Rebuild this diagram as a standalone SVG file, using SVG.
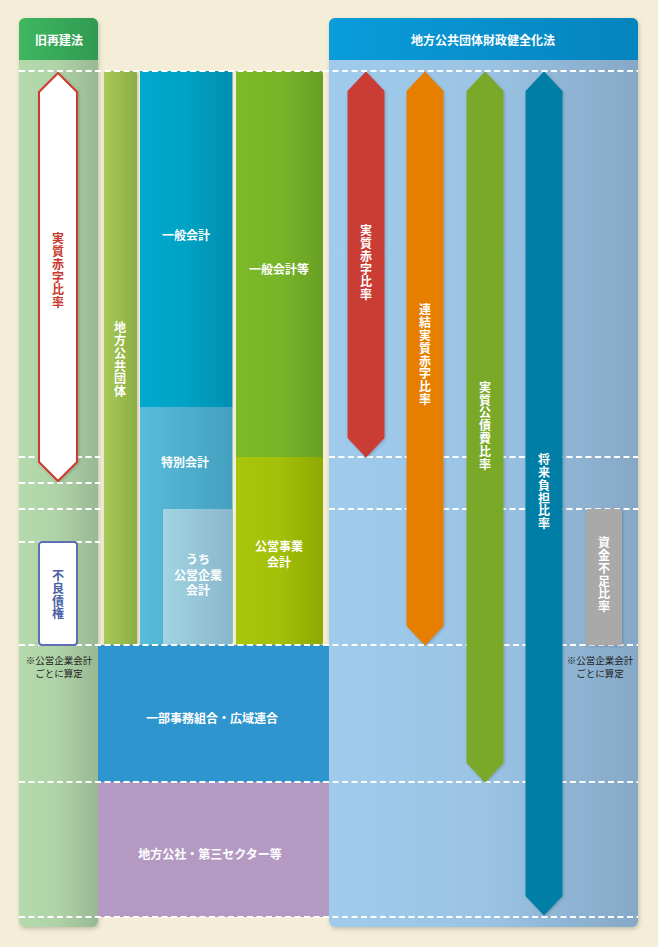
<svg xmlns="http://www.w3.org/2000/svg" width="658" height="947" viewBox="0 0 658 947">
<defs>
<style>
text{font-family:"Noto Sans CJK JP","Noto Sans",sans-serif;font-weight:bold;font-size:12px;fill:#fff;text-anchor:middle}
.v{writing-mode:vertical-rl;letter-spacing:0.8px}
.note{font-weight:normal;font-size:9.5px;fill:#222}
.dash{stroke:#fff;stroke-width:2;stroke-dasharray:6 3.5;fill:none}
</style>
<linearGradient id="gLB" x1="0" x2="1" y1="0" y2="0"><stop offset="0" stop-color="#b4d9ac"/><stop offset="0.45" stop-color="#b0d4a8"/><stop offset="1" stop-color="#99b893"/></linearGradient>
<linearGradient id="gLH" x1="0" x2="1" y1="0" y2="0"><stop offset="0" stop-color="#3fb75f"/><stop offset="1" stop-color="#319a53"/></linearGradient>
<linearGradient id="gRB" x1="0" x2="1" y1="0" y2="0"><stop offset="0" stop-color="#a0cbec"/><stop offset="0.5" stop-color="#9bc4e4"/><stop offset="1" stop-color="#86a8c6"/></linearGradient>
<linearGradient id="gRH" x1="0" x2="1" y1="0" y2="0"><stop offset="0" stop-color="#0a9cdb"/><stop offset="1" stop-color="#0584bd"/></linearGradient>
<linearGradient id="gC1" x1="0" x2="1" y1="0" y2="0"><stop offset="0" stop-color="#a8c957"/><stop offset="1" stop-color="#8cad45"/></linearGradient>
<linearGradient id="gC2a" x1="0" x2="1" y1="0" y2="0"><stop offset="0" stop-color="#00aacd"/><stop offset="0.5" stop-color="#00a2c5"/><stop offset="1" stop-color="#008fb0"/></linearGradient>
<linearGradient id="gC2b" x1="0" x2="1" y1="0" y2="0"><stop offset="0" stop-color="#58bdd9"/><stop offset="1" stop-color="#44a0bf"/></linearGradient>
<linearGradient id="gC2c" x1="0" x2="1" y1="0" y2="0"><stop offset="0" stop-color="#a2d4e3"/><stop offset="1" stop-color="#89b7ca"/></linearGradient>
<linearGradient id="gC3a" x1="0" x2="1" y1="0" y2="0"><stop offset="0" stop-color="#7dbb2a"/><stop offset="0.5" stop-color="#77b528"/><stop offset="1" stop-color="#69a025"/></linearGradient>
<linearGradient id="gC3b" x1="0" x2="1" y1="0" y2="0"><stop offset="0" stop-color="#a9c60b"/><stop offset="0.5" stop-color="#a2c008"/><stop offset="1" stop-color="#8da904"/></linearGradient>
<filter id="sh" x="-10%" y="-10%" width="130%" height="120%"><feDropShadow dx="1" dy="2" stdDeviation="2" flood-color="#000" flood-opacity="0.2"/></filter>
<filter id="sh2" x="-30%" y="-5%" width="160%" height="110%"><feDropShadow dx="1" dy="1" stdDeviation="1.5" flood-color="#000" flood-opacity="0.2"/></filter>
</defs>
<rect width="658" height="947" fill="#f4eed8"/>

<g id="panel-old-law">
<rect x="19" y="18" width="79" height="909" rx="6" fill="url(#gLB)" filter="url(#sh)"/>
<path d="M19,60 V24 a6,6 0 0 1 6,-6 H92 a6,6 0 0 1 6,6 V60 Z" fill="url(#gLH)"/>
<text x="59" y="45">旧再建法</text>
</g>

<g id="panel-new-law">
<rect x="329" y="18" width="309" height="909" rx="6" fill="url(#gRB)" filter="url(#sh)"/>
<path d="M329,60 V24 a6,6 0 0 1 6,-6 H632 a6,6 0 0 1 6,6 V60 Z" fill="url(#gRH)"/>
<text x="483" y="45">地方公共団体財政健全化法</text>
</g>

<g id="col-local-gov">
<path d="M104,71 H134 a3,3 0 0 1 3,3 V642 a3,3 0 0 1 -3,3 H104 Z" fill="url(#gC1)" filter="url(#sh2)"/>
<text class="v" x="120" y="360">地方公共団体</text>
</g>

<g id="general-account">
<rect x="140" y="71" width="92.5" height="336" fill="url(#gC2a)"/>
<text x="186" y="240">一般会計</text>
</g>
<g id="special-account">
<path d="M140,407 H232.5 V642 a3,3 0 0 1 -3,3 H140 Z" fill="url(#gC2b)"/>
<text x="185" y="467">特別会計</text>
</g>
<g id="public-enterprise-account">
<path d="M163,509 H232.5 V642 a3,3 0 0 1 -3,3 H163 Z" fill="url(#gC2c)"/>
<text x="198" y="564"><tspan x="198">うち</tspan><tspan x="198" dy="15.5">公営企業</tspan><tspan x="198" dy="15.5">会計</tspan></text>
</g>

<g id="general-account-etc">
<path d="M236,71 H320 a3,3 0 0 1 3,3 V457 H236 Z" fill="url(#gC3a)"/>
<text x="279" y="274">一般会計等</text>
</g>
<g id="public-business-account">
<path d="M236,457 H323 V642 a3,3 0 0 1 -3,3 H236 Z" fill="url(#gC3b)"/>
<text x="279" y="551"><tspan x="279">公営事業</tspan><tspan x="279" dy="16">会計</tspan></text>
</g>

<g id="partial-affairs-union">
<rect x="98" y="645" width="231" height="137" fill="#2e95cf"/>
<text x="212" y="723">一部事務組合・広域連合</text>
</g>
<g id="third-sector">
<rect x="98" y="782" width="231" height="135" fill="#b49ac3"/>
<text x="210" y="859">地方公社・第三セクター等</text>
</g>

<g id="dashed-lines">
<line class="dash" x1="19" y1="71" x2="638" y2="71"/>
<line class="dash" x1="19" y1="457" x2="100" y2="457"/>
<line class="dash" x1="329" y1="457" x2="638" y2="457"/>
<line class="dash" x1="19" y1="483" x2="100" y2="483"/>
<line class="dash" x1="19" y1="509" x2="100" y2="509"/>
<line class="dash" x1="329" y1="509" x2="638" y2="509"/>
<line class="dash" x1="19" y1="542" x2="100" y2="542"/>
<line class="dash" x1="19" y1="645" x2="638" y2="645"/>
<line class="dash" x1="19" y1="782" x2="638" y2="782"/>
<line class="dash" x1="19" y1="917" x2="638" y2="917"/>
</g>

<g id="old-deficit-ratio">
<path d="M58,73 L77,92 V462 L58,481 L39,462 V92 Z" fill="#fff" stroke="#cc3b2f" stroke-width="2" stroke-linejoin="round" filter="url(#sh2)"/>
<text class="v" x="58" y="271" style="fill:#c8382e">実質赤字比率</text>
</g>

<g id="bad-debt">
<rect x="39" y="542" width="38" height="103" rx="3" fill="#fff" stroke="#5d6fb0" stroke-width="2"/>
<text class="v" x="58" y="595" style="fill:#4a5fa5">不良債権</text>
<text class="note" x="59" y="664"><tspan x="59">※公営企業会計</tspan><tspan x="59" dy="13">ごとに算定</tspan></text>
</g>

<g id="deficit-ratio">
<path d="M366,72 L384,91 V438 L366,457 L348,438 V91 Z" fill="#c93c36" stroke="#c93c36" stroke-width="1" stroke-linejoin="round" filter="url(#sh2)"/>
<text class="v" x="366" y="263">実質赤字比率</text>
</g>

<g id="consolidated-deficit-ratio">
<path d="M425,72 L443,91 V626 L425,645 L407,626 V91 Z" fill="#e67e00" stroke="#e67e00" stroke-width="1" stroke-linejoin="round" filter="url(#sh2)"/>
<text class="v" x="425" y="355">連結実質赤字比率</text>
</g>

<g id="debt-service-ratio">
<path d="M485,72 L503,91 V763 L485,782 L467,763 V91 Z" fill="#7aa92c" stroke="#7aa92c" stroke-width="1" stroke-linejoin="round" filter="url(#sh2)"/>
<text class="v" x="485" y="426">実質公債費比率</text>
</g>

<g id="future-burden-ratio">
<path d="M544,72 L562,91 V896 L544,915 L526,896 V91 Z" fill="#007ea6" stroke="#007ea6" stroke-width="1" stroke-linejoin="round" filter="url(#sh2)"/>
<text class="v" x="544" y="492">将来負担比率</text>
</g>

<g id="fund-shortage-ratio">
<rect x="586" y="509" width="36" height="136" rx="2" fill="#a9a9a9" filter="url(#sh2)"/>
<text class="v" x="604" y="575">資金不足比率</text>
<text class="note" x="600" y="664"><tspan x="600">※公営企業会計</tspan><tspan x="600" dy="13">ごとに算定</tspan></text>
</g>
</svg>
